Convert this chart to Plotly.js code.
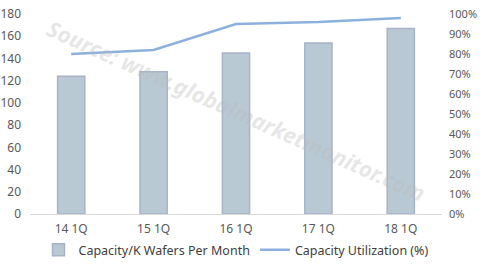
<!DOCTYPE html>
<html><head><meta charset="utf-8">
<script src="https://cdn.plot.ly/plotly-3.0.1.min.js"></script>
<style>html,body{margin:0;padding:0;background:#fff}#c{width:483px;height:267px}</style>
</head><body><div id="c"></div>
<script>
const categories = ["14 1Q", "15 1Q", "16 1Q", "17 1Q", "18 1Q"];
const capacity = [124, 128, 145, 154, 167];
const utilization = [80, 82, 95, 96, 98];
const leftTicks = [0, 20, 40, 60, 80, 100, 120, 140, 160, 180];
const rightTicks = [0, 10, 20, 30, 40, 50, 60, 70, 80, 90, 100];

const FONT = "Noto Sans, DejaVu Sans, sans-serif";
const data = [
  {type: "bar", x: categories, y: capacity, name: "Capacity/K Wafers Per Month",
   marker: {color: "#B9C9D4", line: {color: "#A8B3C7", width: 1.5}}, yaxis: "y"},
  {type: "scatter", mode: "lines", x: categories, y: utilization, name: "Capacity Utilization (%)",
   line: {color: "#8EB0DE", width: 2.5}, yaxis: "y2"}
];
const layout = {
  width: 483, height: 267,
  margin: {l: 30, r: 41, t: 14, b: 53, autoexpand: false},
  paper_bgcolor: "#fff", plot_bgcolor: "#fff",
  bargap: 0.67,
  showlegend: true,
  legend: {orientation: "h", x: 0.5, xanchor: "center", y: -0.105, yanchor: "top",
           bgcolor: "rgba(0,0,0,0)",
           font: {family: FONT, size: 12.5, color: "#404040"}, traceorder: "normal"},
  xaxis: {type: "category", showgrid: false, showline: true, linecolor: "#D9D9D9", linewidth: 1,
          ticks: "", ticklabelstandoff: 4, tickfont: {family: FONT, size: 12, color: "#595959"}, zeroline: false},
  yaxis: {range: [0, 180], tickvals: leftTicks, showgrid: false, zeroline: false, showline: false,
          ticks: "", ticklabelstandoff: 8, tickfont: {family: FONT, size: 12, color: "#595959"}},
  yaxis2: {range: [0, 100], tickvals: rightTicks, ticktext: rightTicks.map(v => v + "%"),
           overlaying: "y", side: "right", showgrid: false, zeroline: false, showline: false,
           ticks: "", ticklabelstandoff: 6, tickfont: {family: FONT, size: 11, color: "#595959"}},
  annotations: [{text: "Source: www.globalmarketmonitor.com", xref: "paper", yref: "paper",
    x: 0.5, y: 0.52, showarrow: false, textangle: 24,
    font: {family: FONT, size: 22, color: "rgba(185,185,185,0.35)", weight: "bold", style: "italic"}}]
};
Plotly.newPlot("c", data, layout, {displayModeBar: false, staticPlot: true});
</script></body></html>
